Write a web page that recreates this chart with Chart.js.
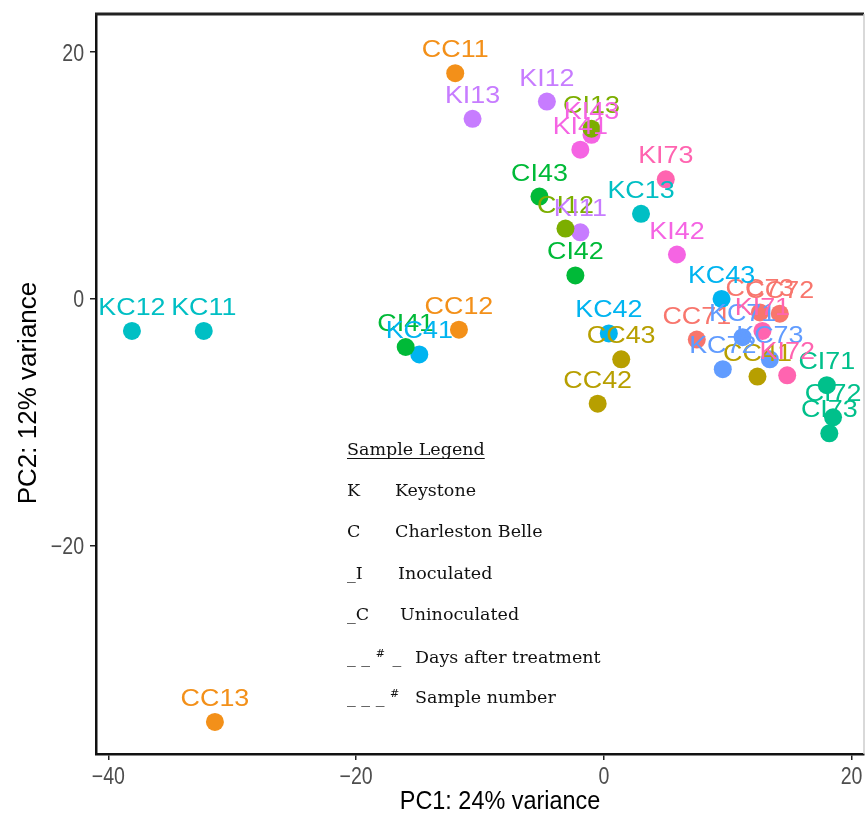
<!DOCTYPE html>
<html>
<head>
<meta charset="utf-8">
<title>PCA samples</title>
<script src="https://cdn.jsdelivr.net/npm/chart.js@4.4.0/dist/chart.umd.min.js"></script>
<style>
  html, body { margin: 0; padding: 0; background: #fff; }
  #wrap { width: 865px; height: 817px; }
</style>
</head>
<body>
<div id="wrap"><canvas id="pca" width="865" height="817"></canvas></div>
<script>
// groups (cultivar + treatment + day) and their colours
const groupNames  = ['CC1', 'CC4', 'CC7', 'CI1', 'CI4', 'CI7', 'KC1', 'KC4', 'KC7', 'KI1', 'KI4', 'KI7'];
const groupColors = ['#F39019', '#B79F00', '#F8766D', '#7CAE00', '#00BA38', '#00C08B',
                     '#00BFC4', '#00B4F0', '#619CFF', '#C77CFF', '#F564E3', '#FF64B0'];

// samples
const sampleNames = ['KC11', 'KC12', 'KC13', 'KC41', 'KC42', 'KC43', 'KC71', 'KC72', 'KC73',
                     'CC11', 'CC12', 'CC13', 'CC41', 'CC42', 'CC43', 'CC71', 'CC72', 'CC73',
                     'CI12', 'CI13', 'CI41', 'CI42', 'CI43', 'CI71', 'CI72', 'CI73',
                     'KI11', 'KI12', 'KI13', 'KI41', 'KI42', 'KI43', 'KI71', 'KI72', 'KI73'];
const pc1 = [-32.3, -38.1, 3.0, -14.9, 0.4, 9.5, 11.2, 9.6, 13.4,
             -12.0, -11.7, -31.4, 12.4, -0.5, 1.4, 7.5, 14.2, 12.6,
             -3.1, -1.0, -16.0, -2.3, -5.2, 18.0, 18.5, 18.2,
             -1.9, -4.6, -10.6, -1.9, 5.9, -1.0, 12.8, 14.8, 5.0];
const pc2 = [-2.6, -2.6, 6.9, -4.5, -2.8, 0.0, -3.1, -5.7, -4.9,
             18.3, -2.5, -34.3, -6.3, -8.5, -4.9, -3.3, -1.2, -1.1,
             5.7, 13.8, -3.9, 1.9, 8.3, -7.0, -9.6, -10.9,
             5.4, 16.0, 14.6, 12.1, 3.6, 13.3, -2.6, -6.2, 9.7];

const xTicks = [-40, -20, 0, 20];
const yTicks = [-20, 0, 20];
const xTitle = 'PC1: 24% variance';
const yTitle = 'PC2: 12% variance';

const legendTitle = 'Sample Legend';
const legendKeys  = ['K', 'C', '_I', '_C', '_ _ # _', '_ _ _ #'];
const legendTexts = ['Keystone', 'Charleston Belle', 'Inoculated', 'Uninoculated', 'Days after treatment', 'Sample number'];

// build one dataset per group
const datasets = groupNames.map((g, gi) => {
  const pts = [];
  const labels = [];
  sampleNames.forEach((s, i) => {
    if (s.slice(0, 3) === g) {
      pts.push({ x: pc1[i], y: pc2[i] });
      labels.push(s);
    }
  });
  return {
    label: g,
    data: pts,
    sampleLabels: labels,
    backgroundColor: groupColors[gi],
    borderColor: groupColors[gi],
    borderWidth: 0,
    pointRadius: 9,
    pointHoverRadius: 9
  };
});

function minusFmt(v){ return v < 0 ? '\u2212' + Math.abs(v) : String(v); }

// text squeezed/stretched horizontally
function drawText(ctx, txt, x, y, sx, align){
  ctx.save();
  ctx.translate(x, y);
  ctx.scale(sx, 1);
  ctx.textAlign = align;
  ctx.fillText(txt, 0, 0);
  ctx.restore();
}

// sample names above the dots, like geom_text
const pointLabels = {
  id: 'pointLabels',
  afterDatasetsDraw(chart){
    const ctx = chart.ctx;
    ctx.save();
    ctx.font = '24px "Liberation Sans", Arial, sans-serif';
    ctx.textBaseline = 'alphabetic';
    chart.data.datasets.forEach((ds, i) => {
      const meta = chart.getDatasetMeta(i);
      ctx.fillStyle = ds.borderColor;
      meta.data.forEach((pt, j) => {
        drawText(ctx, ds.sampleLabels[j], pt.x, pt.y - 16, 1.12, 'center');
      });
    });
    ctx.restore();
  }
};

// frame, tick labels, axis titles, text legend
const decorations = {
  id: 'decorations',
  afterDraw(chart){
    const { ctx, chartArea: a, scales: { x, y } } = chart;
    ctx.save();
    // top + right of the panel
    ctx.strokeStyle = '#222';
    ctx.lineWidth = 3;
    ctx.beginPath(); ctx.moveTo(a.left - 1, a.top); ctx.lineTo(a.right, a.top); ctx.stroke();
    ctx.strokeStyle = '#ccc';
    ctx.lineWidth = 1.5;
    ctx.beginPath(); ctx.moveTo(a.right, a.top); ctx.lineTo(a.right, a.bottom); ctx.stroke();

    // tick labels
    ctx.fillStyle = '#4d4d4d';
    ctx.font = '23px "Liberation Sans", Arial, sans-serif';
    ctx.textBaseline = 'alphabetic';
    xTicks.forEach(v => drawText(ctx, minusFmt(v), x.getPixelForValue(v), 784, 0.85, 'center'));
    yTicks.forEach(v => drawText(ctx, minusFmt(v), 84, y.getPixelForValue(v) + 8.5, 0.85, 'right'));

    // axis titles
    ctx.fillStyle = '#000';
    ctx.font = '26px "Liberation Sans", Arial, sans-serif';
    drawText(ctx, xTitle, 500, 809, 0.9, 'center');
    ctx.save();
    ctx.translate(36, 393);
    ctx.rotate(-Math.PI / 2);
    ctx.textAlign = 'center';
    ctx.fillText(yTitle, 0, 0);
    ctx.restore();

    // legend block
    ctx.fillStyle = '#111';
    ctx.font = '17.5px "DejaVu Serif", serif';
    ctx.textAlign = 'left';
    ctx.fillText(legendTitle, 347, 455);
    const tw = ctx.measureText(legendTitle).width;
    ctx.strokeStyle = '#111';
    ctx.lineWidth = 1;
    ctx.beginPath(); ctx.moveTo(347, 458.5); ctx.lineTo(347 + tw, 458.5); ctx.stroke();

    const rowY = [496, 537, 579, 620, 663, 703];
    const textX = [395, 395, 398, 400, 415, 415];
    legendKeys.forEach((k, i) => {
      const by = rowY[i];
      if (k.indexOf('#') >= 0) {
        const parts = k.split('#');
        ctx.font = '17.5px "DejaVu Serif", serif';
        ctx.fillText(parts[0], 347, by);
        const w0 = ctx.measureText(parts[0]).width;
        ctx.font = '11px "DejaVu Serif", serif';
        ctx.fillText('#', 347 + w0, by - 6);
        const w1 = ctx.measureText('#').width;
        ctx.font = '17.5px "DejaVu Serif", serif';
        ctx.fillText(parts[1], 347 + w0 + w1 + 2, by);
      } else {
        ctx.font = '17.5px "DejaVu Serif", serif';
        ctx.fillText(k, 347, by);
      }
      ctx.font = '17.5px "DejaVu Serif", serif';
      ctx.fillText(legendTexts[i], textX[i], by);
    });
    ctx.restore();
  }
};

new Chart(document.getElementById('pca'), {
  type: 'scatter',
  data: { datasets },
  options: {
    responsive: false,
    animation: false,
    layout: { autoPadding: false, padding: { left: 0, top: 14, right: 1, bottom: 0 } },
    plugins: { legend: { display: false }, tooltip: { enabled: false } },
    scales: {
      x: {
        type: 'linear', min: -41, max: 21,
        afterFit(s){ s.height = 63; s.paddingLeft = 0; s.paddingRight = 0; },
        afterBuildTicks(s){ s.ticks = xTicks.map(v => ({ value: v })); },
        ticks: { display: false },
        grid: { drawOnChartArea: false, drawTicks: true, tickLength: 6, color: '#222', lineWidth: 1.5 },
        border: { display: true, color: '#111', width: 2.5 }
      },
      y: {
        type: 'linear', min: -36.9, max: 23.1,
        afterFit(s){ s.width = 96; s.paddingTop = 0; s.paddingBottom = 0; },
        afterBuildTicks(s){ s.ticks = yTicks.map(v => ({ value: v })); },
        ticks: { display: false },
        grid: { drawOnChartArea: false, drawTicks: true, tickLength: 6, color: '#222', lineWidth: 1.5 },
        border: { display: true, color: '#111', width: 2.5 }
      }
    }
  },
  plugins: [pointLabels, decorations]
});
</script>
</body>
</html>
